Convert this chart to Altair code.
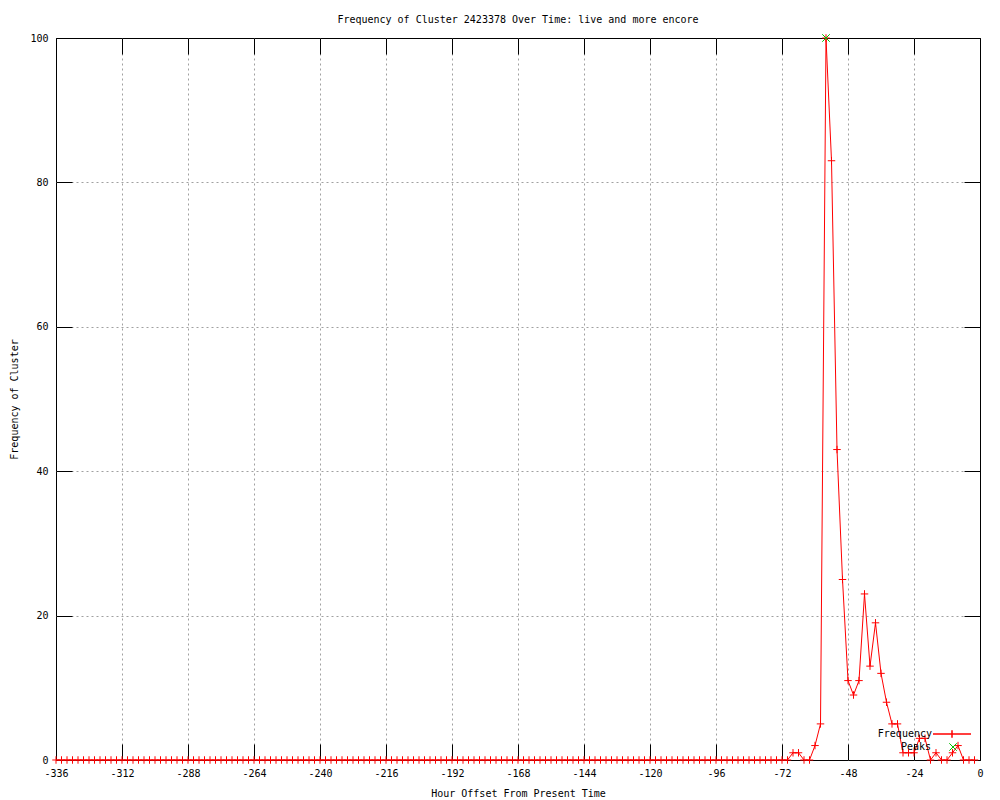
import altair as alt
import pandas as pd

# ---------------- data ----------------
hours = list(range(-336, 0, 2))
frequency = [
    0, 0, 0, 0, 0, 0, 0, 0, 0, 0, 0, 0, 0, 0, 0, 0, 0, 0, 0, 0,
    0, 0, 0, 0, 0, 0, 0, 0, 0, 0, 0, 0, 0, 0, 0, 0, 0, 0, 0, 0,
    0, 0, 0, 0, 0, 0, 0, 0, 0, 0, 0, 0, 0, 0, 0, 0, 0, 0, 0, 0,
    0, 0, 0, 0, 0, 0, 0, 0, 0, 0, 0, 0, 0, 0, 0, 0, 0, 0, 0, 0,
    0, 0, 0, 0, 0, 0, 0, 0, 0, 0, 0, 0, 0, 0, 0, 0, 0, 0, 0, 0,
    0, 0, 0, 0, 0, 0, 0, 0, 0, 0, 0, 0, 0, 0, 0, 0, 0, 0, 0, 0,
    0, 0, 0, 0, 0, 0, 0, 0, 0, 0, 0, 0, 0, 0,
    1, 1, 0, 0, 2, 5, 100, 83, 43, 25, 11, 9, 11, 23, 13, 19, 12, 8,
    5, 5, 1, 1, 1, 3, 3, 0, 1, 0, 0, 1, 2, 0, 0, 0,
]
peak_hours = [-56]
peak_values = [100]

x_ticks = [-336, -312, -288, -264, -240, -216, -192, -168, -144, -120,
           -96, -72, -48, -24, 0]
y_ticks = [0, 20, 40, 60, 80, 100]

title_text = "Frequency of Cluster 2423378 Over Time: live and more encore"
x_title = "Hour Offset From Present Time"
y_title = "Frequency of Cluster"

freq_df = pd.DataFrame({"hour": hours, "value": frequency, "series": "Frequency"})
peak_df = pd.DataFrame({"hour": peak_hours, "value": peak_values, "series": "Peaks"})

# ---------------- style ----------------
FONT = "DejaVu Sans Mono"
CROSS = "M-1,0H1M0,-1V1"
XSHAPE = "M-1,-1L1,1M-1,1L1,-1"
LEGEND_LINE = "M-1,0L1,0M0,-0.2L0,0.2"
RED = "#ff0000"
GREEN = "#00c000"

xscale = alt.Scale(domain=[-336, 0], nice=False, zero=False)
yscale = alt.Scale(domain=[0, 100], nice=False, zero=False)

x_grid_op = {"condition": {"test": "datum.value <= -336 || datum.value >= 0", "value": 0}, "value": 1}
y_grid_op = {"condition": {"test": "datum.value <= 0 || datum.value >= 100", "value": 0}, "value": 1}

common_axis = dict(
    offset=-16, tickSize=16, tickColor="black", tickWidth=1, domain=False,
    labelFont=FONT, labelFontSize=10, labelColor="black",
    titleFont=FONT, titleFontSize=10, titleFontWeight="normal", titleColor="black",
    labelFlush=False, labelOverlap=False,
)

x_bottom = alt.Axis(
    orient="bottom", values=x_ticks, grid=True, gridColor="#a0a0a0", gridDash=[2, 3],
    gridOpacity=x_grid_op, labelPadding=8, labelExpr="'' + datum.value",
    title=x_title, titlePadding=10, **common_axis,
)
y_left = alt.Axis(
    orient="left", values=y_ticks, grid=True, gridColor="#a0a0a0", gridDash=[2, 3],
    gridOpacity=y_grid_op, labelPadding=8, labelExpr="'' + datum.value",
    title=y_title, titlePadding=10, **common_axis,
)
x_top = alt.Axis(orient="top", values=x_ticks, grid=False, labels=False, title=None,
                 offset=-16, tickSize=16, tickColor="black", tickWidth=1, domain=False)
y_right = alt.Axis(orient="right", values=y_ticks, grid=False, labels=False, title=None,
                   offset=-16, tickSize=16, tickColor="black", tickWidth=1, domain=False)

freq_legend = alt.Legend(
    title=None, orient="none", legendX=876, legendY=676, padding=0,
    symbolType=LEGEND_LINE, symbolSize=1444, symbolStrokeWidth=1.5,
    symbolStrokeColor=RED, symbolOpacity=1,
    symbolFillColor=RED, labelAlign="right", labelOffset={"expr": "-40"},
    labelFont=FONT, labelFontSize=10, labelColor="black",
)
peak_legend = alt.Legend(
    title=None, orient="none", legendX=892, legendY=704, padding=0,
    symbolType=XSHAPE, symbolSize=56, symbolStrokeWidth=1,
    symbolStrokeColor=GREEN,
    symbolFillColor=GREEN, labelAlign="right", labelOffset={"expr": "-27"},
    labelFont=FONT, labelFontSize=10, labelColor="black",
)

line = alt.Chart(freq_df).mark_line(strokeWidth=1, interpolate="linear", color=RED).encode(
    x=alt.X("hour:Q", scale=xscale, axis=x_bottom),
    y=alt.Y("value:Q", scale=yscale, axis=y_left),
)

points = alt.Chart(freq_df).mark_point(shape=CROSS, size=56, filled=False, strokeWidth=1, opacity=1).encode(
    x=alt.X("hour:Q", scale=xscale, axis=None),
    y=alt.Y("value:Q", scale=yscale, axis=None),
    stroke=alt.Stroke("series:N", scale=alt.Scale(domain=["Frequency"], range=[RED]),
                      legend=freq_legend),
)

peaks = alt.Chart(peak_df).mark_point(shape=XSHAPE, size=56, filled=False, strokeWidth=1, opacity=1).encode(
    x=alt.X("hour:Q", scale=xscale, axis=None),
    y=alt.Y("value:Q", scale=yscale, axis=None),
    color=alt.Color("series:N", scale=alt.Scale(domain=["Peaks"], range=[GREEN]),
                    legend=peak_legend),
)

mirror = alt.Chart(freq_df).mark_line(opacity=0).encode(
    x=alt.X("hour:Q", scale=xscale, axis=x_top),
    y=alt.Y("value:Q", scale=yscale, axis=y_right),
)

chart = alt.layer(line, points, peaks, mirror).resolve_axis(
    x="independent", y="independent"
).properties(
    width=924, height=722,
    autosize="none",
    padding={"left": 48, "top": 30, "right": 12, "bottom": 42},
    title=alt.TitleParams(title_text, font=FONT, fontSize=10, fontWeight="normal",
                          color="black", anchor="middle", offset=7),
    background="white",
).configure_view(stroke="black", strokeWidth=1)

chart.save("out.html", embed_options={"renderer": "svg", "actions": False})
